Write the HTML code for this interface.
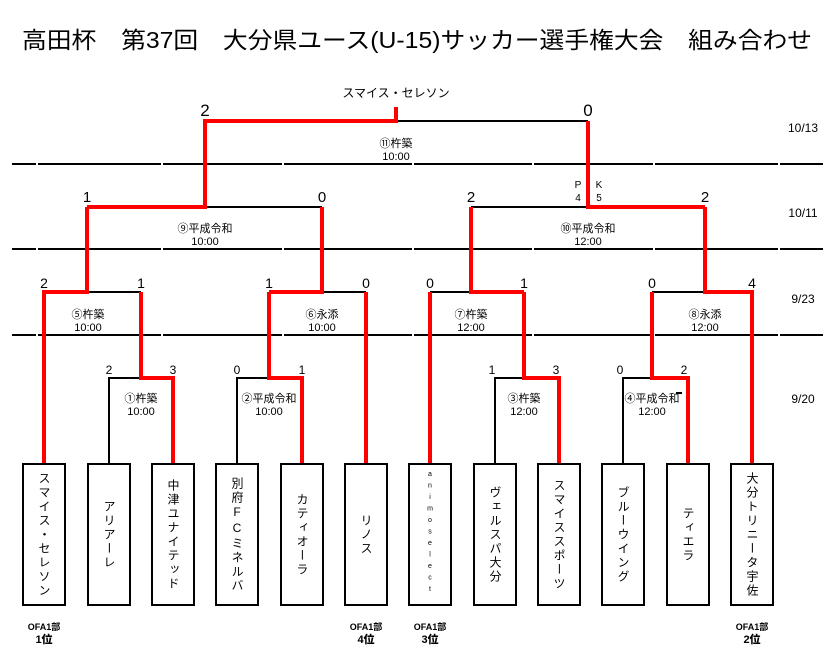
<!DOCTYPE html>
<html><head><meta charset="utf-8"><style>
body{margin:0;background:#fff;width:833px;height:658px;overflow:hidden;position:relative;font-family:"Liberation Sans","Noto Sans CJK JP",sans-serif}
.box{position:absolute;top:463px;width:40px;height:139px;border:2px solid #000;display:flex;align-items:center;justify-content:center}
.box span{writing-mode:vertical-rl;text-orientation:upright;font-size:12px;letter-spacing:2px;line-height:1}
.ofa{position:absolute;top:621px;width:50px;text-align:center;font-size:9px;font-weight:bold;line-height:13px}
.ofa b{font-size:11px}
</style></head><body>
<svg width="833" height="658" style="position:absolute;left:0;top:0" font-family="Liberation Sans,Noto Sans CJK JP,sans-serif">
<text x="417" y="48" font-size="23" text-anchor="middle" textLength="790" lengthAdjust="spacingAndGlyphs">高田杯　第37回　大分県ユース(U-15)サッカー選手権大会　組み合わせ</text>
<g stroke="#000" stroke-width="2">
<path d="M12 164H36M38 164H161M163 164H282M284 164H412M414 164H532M534 164H653M655 164H778M780 164H823"/>
<path d="M12 249H36M38 249H161M163 249H282M284 249H412M414 249H532M534 249H653M655 249H778M780 249H823"/>
<path d="M12 335H36M38 335H161M163 335H282M284 335H412M414 335H532M534 335H653M655 335H778M780 335H823"/>
</g>
<g stroke="#000" stroke-width="2" fill="none">
<path d="M109 463V378H141"/><path d="M237 463V378H269"/><path d="M495 463V378H524"/><path d="M623 463V378H652"/>
<path d="M87 292H141"/><path d="M322 292H366"/><path d="M430 292H471"/><path d="M652 292H705"/>
<path d="M205 207H322"/><path d="M471 207H588"/>
<path d="M396 121H588"/>
<path d="M676 393H682"/>
</g>
<g stroke="#f00" stroke-width="4" fill="none" stroke-linejoin="miter">
<path d="M173 463V378H141V292"/>
<path d="M302 463V378H269V292"/>
<path d="M559 463V378H524V292"/>
<path d="M688 463V378H652V292"/>
<path d="M44 463V292H87V207"/>
<path d="M366 463V292"/>
<path d="M269 292H322V207"/>
<path d="M430 463V292"/>
<path d="M524 292H471V207"/>
<path d="M752 463V292H705V207"/>
<path d="M87 207H205V121H396V107"/>
<path d="M322 207V292"/>
<path d="M471 207V292"/>
<path d="M705 207H588V121"/>
</g>
<g font-size="17" text-anchor="middle"><text x="205" y="116">2</text><text x="588" y="116">0</text></g>
<text x="396" y="97" font-size="12" text-anchor="middle">スマイス・セレソン</text>
<g font-size="15" text-anchor="middle"><text x="87" y="202">1</text><text x="322" y="202">0</text><text x="471" y="202">2</text><text x="705" y="202">2</text></g>
<g font-size="14" text-anchor="middle"><text x="44" y="288">2</text><text x="141" y="288">1</text><text x="269" y="288">1</text><text x="366" y="288">0</text><text x="430" y="288">0</text><text x="524" y="288">1</text><text x="652" y="288">0</text><text x="752" y="288">4</text></g>
<g font-size="12" text-anchor="middle"><text x="109" y="374">2</text><text x="173" y="374">3</text><text x="237" y="374">0</text><text x="302" y="374">1</text><text x="492" y="374">1</text><text x="556" y="374">3</text><text x="620" y="374">0</text><text x="684" y="374">2</text></g>
<g font-size="10" text-anchor="middle"><text x="578" y="188">P</text><text x="578" y="201">4</text><text x="599" y="188">K</text><text x="599" y="201">5</text></g>
<g font-size="11" text-anchor="middle">
<text x="396" y="147">⑪杵築</text><text x="396" y="160">10:00</text>
<text x="205" y="232">⑨平成令和</text><text x="205" y="245">10:00</text>
<text x="588" y="232">⑩平成令和</text><text x="588" y="245">12:00</text>
<text x="88" y="318">⑤杵築</text><text x="88" y="331">10:00</text>
<text x="322" y="318">⑥永添</text><text x="322" y="331">10:00</text>
<text x="471" y="318">⑦杵築</text><text x="471" y="331">12:00</text>
<text x="705" y="318">⑧永添</text><text x="705" y="331">12:00</text>
<text x="141" y="402">①杵築</text><text x="141" y="415">10:00</text>
<text x="269" y="402">②平成令和</text><text x="269" y="415">10:00</text>
<text x="524" y="402">③杵築</text><text x="524" y="415">12:00</text>
<text x="652" y="402">④平成令和</text><text x="652" y="415">12:00</text>
</g>
<g font-size="12" text-anchor="middle"><text x="803" y="132">10/13</text><text x="803" y="217">10/11</text><text x="803" y="303">9/23</text><text x="803" y="403">9/20</text></g>
</svg>
<div class="box" style="left:22px"><span>スマイス・セレソン</span></div>
<div class="box" style="left:87px"><span>アリアーレ</span></div>
<div class="box" style="left:151px"><span>中津ユナイテッド</span></div>
<div class="box" style="left:215px"><span>別府FCミネルバ</span></div>
<div class="box" style="left:280px"><span>カティオーラ</span></div>
<div class="box" style="left:344px"><span>リノス</span></div>
<div class="box" style="left:408px"><span style="font-size:7px;letter-spacing:4.5px">animoselect</span></div>
<div class="box" style="left:473px"><span>ヴェルスパ大分</span></div>
<div class="box" style="left:537px"><span>スマイススポーツ</span></div>
<div class="box" style="left:601px"><span>ブルーウイング</span></div>
<div class="box" style="left:666px"><span>ティエラ</span></div>
<div class="box" style="left:730px"><span>大分トリニータ宇佐</span></div>
<div class="ofa" style="left:19px">OFA1部<br><b>1位</b></div>
<div class="ofa" style="left:341px">OFA1部<br><b>4位</b></div>
<div class="ofa" style="left:405px">OFA1部<br><b>3位</b></div>
<div class="ofa" style="left:727px">OFA1部<br><b>2位</b></div>
</body></html>
